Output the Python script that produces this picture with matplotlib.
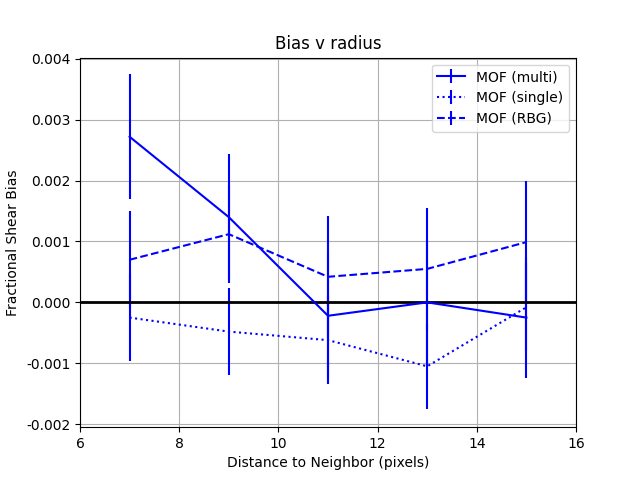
import numpy as np
import matplotlib
matplotlib.use("Agg")
import matplotlib.pyplot as plt
from matplotlib.ticker import FormatStrFormatter

radius = np.array([7, 9, 11, 13, 15])
bias_multi = np.array([0.00272, 0.00140, -0.00022, 0.0, -0.00025])
err_multi = np.array([0.00103, 0.00103, 0.00103, 0.00103, 0.00100])
bias_single = np.array([-0.00025, -0.00048, -0.00062, -0.00105, -0.00008])
err_single = np.array([0.00072, 0.00072, 0.00072, 0.00070, 0.00072])
bias_rbg = np.array([0.00070, 0.00112, 0.00042, 0.00055, 0.00099])
err_rbg = np.array([0.00080, 0.00080, 0.00100, 0.00100, 0.00100])

fig, ax = plt.subplots(figsize=(6.4, 4.8), dpi=100)
ax.errorbar(radius, bias_multi, yerr=err_multi, color='blue', ls='-', label='MOF (multi)')
ax.errorbar(radius, bias_single, yerr=err_single, color='blue', ls=':', label='MOF (single)')
ax.errorbar(radius, bias_rbg, yerr=err_rbg, color='blue', ls='--', label='MOF (RBG)')
ax.axhline(0, color='black', lw=2)
ax.set_xlim(6, 16)
ax.set_ylim(-0.00205, 0.00402)
ax.yaxis.set_major_formatter(FormatStrFormatter('%.3f'))
ax.grid(True)
ax.set_xlabel('Distance to Neighbor (pixels)')
ax.set_ylabel('Fractional Shear Bias')
ax.set_title('Bias v radius')
ax.legend(loc='upper right')
fig.savefig('out.png')
